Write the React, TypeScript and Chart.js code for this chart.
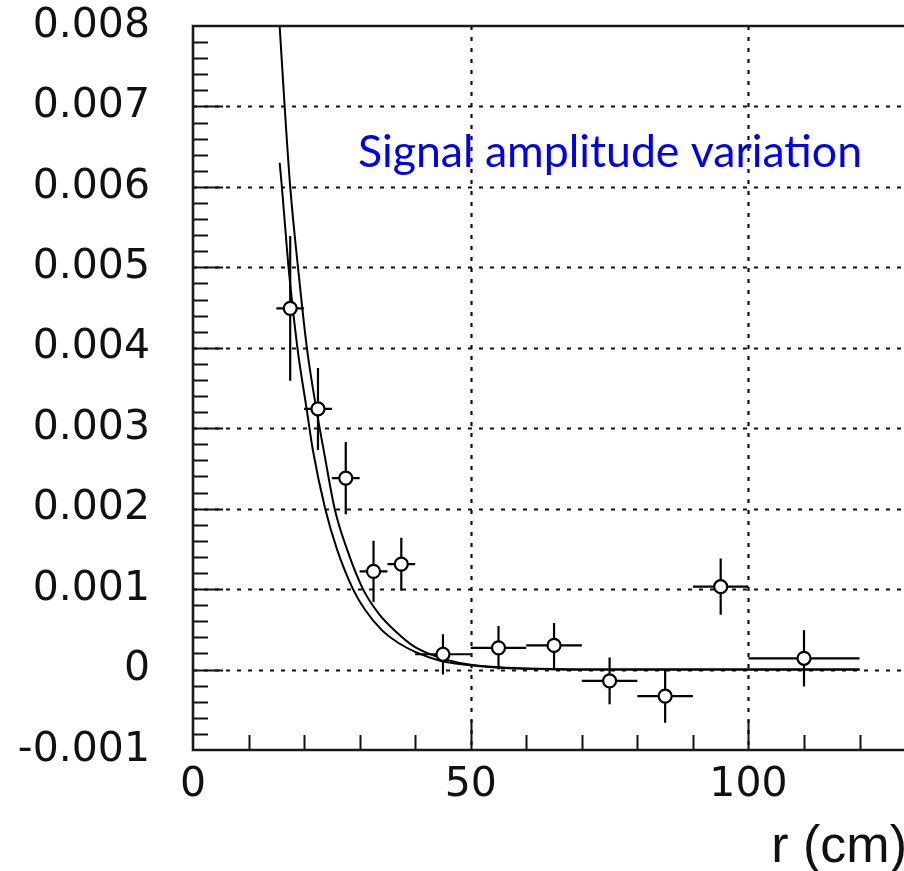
import React, { useEffect, useRef } from "react";
import { Chart, registerables } from "chart.js";

Chart.register(...registerables);

// ---- measured data points (bin centres, half bin widths, amplitudes, errors)
const rCenters = [17.5, 22.5, 27.5, 32.5, 37.5, 45, 55, 65, 75, 85, 95, 110];
const rHalfWidths = [2.5, 2.5, 2.5, 2.5, 2.5, 5, 5, 5, 5, 5, 5, 10];
const amplitudes = [0.00449, 0.00324, 0.00238, 0.00122, 0.00131, 0.00019, 0.00027, 0.0003, -0.00014, -0.00033, 0.00103, 0.00014];
const amplitudeErrors = [0.0009, 0.00051, 0.00045, 0.00038, 0.00033, 0.00025, 0.00027, 0.00028, 0.00029, 0.00033, 0.00035, 0.00035];

// ---- fitted curves
const fitUpperR = [15.6, 16.5, 17.5, 18.9, 20.5, 22.3, 23.6, 25.5, 27.7, 30.6, 33.5, 36.7, 39.5, 42.0, 45.7, 50, 55, 62, 70, 120];
const fitUpperV = [0.008, 0.007, 0.006, 0.005, 0.004, 0.0032, 0.0027, 0.002, 0.0015, 0.001, 0.00069, 0.00046, 0.0003, 0.00021, 0.00012, 0.00006, 0.00003, 0.00001, 0, 0];
const fitLowerR = [15.6, 16.0, 16.9, 17.2, 18.8, 20.5, 21.6, 23.8, 25.9, 28.8, 31.0, 34.0, 37.0, 40.0, 44.5, 49, 54, 60, 68, 120];
const fitLowerV = [0.0063, 0.006, 0.00524, 0.005, 0.004, 0.00322, 0.00272, 0.002, 0.0015, 0.001, 0.00074, 0.00049, 0.00033, 0.00022, 0.00011, 0.00006, 0.00003, 0.00001, 0, 0];

// ---- axes
const xTickValues = [0, 50, 100];
const xTickLabels = ["0", "50", "100"];
const yTickValues = [-0.001, 0, 0.001, 0.002, 0.003, 0.004, 0.005, 0.006, 0.007, 0.008];
const yTickLabels = ["-0.001", "0", "0.001", "0.002", "0.003", "0.004", "0.005", "0.006", "0.007", "0.008"];
const xGridValues = [50, 100];
const yGridValues = [0, 0.001, 0.002, 0.003, 0.004, 0.005, 0.006, 0.007];
const xMinorStep = 10;
const xMinorMax = 120;
const yMinorStep = 0.0002;
const xTitle = "r (cm)";
const annotationText = "Signal amplitude variation";

const X_MIN = 0;
const X_MAX = 128;
const Y_MIN = -0.001;
const Y_MAX = 0.008;

const W = 904;
const H = 871;

const decorPlugin = {
  id: "decor",
  beforeDatasetsDraw(chart: any) {
    const { ctx, chartArea: a, scales } = chart;
    const x = scales.x;
    const y = scales.y;
    ctx.save();
    // dotted grid
    ctx.strokeStyle = "#111";
    ctx.lineWidth = 2.2;
    ctx.setLineDash([4, 7]);
    for (const v of yGridValues) {
      const py = Math.round(y.getPixelForValue(v)) + 0.5;
      ctx.beginPath();
      ctx.moveTo(a.left, py);
      ctx.lineTo(a.right, py);
      ctx.stroke();
    }
    for (const v of xGridValues) {
      const px = Math.round(x.getPixelForValue(v)) + 0.5;
      ctx.beginPath();
      ctx.moveTo(px, a.top);
      ctx.lineTo(px, a.bottom);
      ctx.stroke();
    }
    ctx.setLineDash([]);
    // error bars
    ctx.strokeStyle = "#000";
    ctx.lineWidth = 2.2;
    for (let i = 0; i < rCenters.length; i++) {
      const cx = x.getPixelForValue(rCenters[i]);
      const cy = y.getPixelForValue(amplitudes[i]);
      const x0 = x.getPixelForValue(rCenters[i] - rHalfWidths[i]);
      const x1 = x.getPixelForValue(rCenters[i] + rHalfWidths[i]);
      const y0 = y.getPixelForValue(amplitudes[i] + amplitudeErrors[i]);
      const y1 = y.getPixelForValue(amplitudes[i] - amplitudeErrors[i]);
      ctx.beginPath();
      ctx.moveTo(x0, cy);
      ctx.lineTo(x1, cy);
      ctx.moveTo(cx, y0);
      ctx.lineTo(cx, y1);
      ctx.stroke();
    }
    ctx.restore();
  },
  afterDatasetsDraw(chart: any) {
    const { ctx, chartArea: a, scales } = chart;
    const x = scales.x;
    const y = scales.y;
    ctx.save();
    ctx.strokeStyle = "#111";
    ctx.lineWidth = 2;
    // y ticks (inside, from left border)
    const nY = Math.round((Y_MAX - Y_MIN) / yMinorStep);
    for (let k = 1; k < nY; k++) {
      const v = Y_MIN + k * yMinorStep;
      const py = Math.round(y.getPixelForValue(v)) + 0.5;
      const len = k % 5 === 0 ? 30 : 15;
      ctx.beginPath();
      ctx.moveTo(a.left, py);
      ctx.lineTo(a.left + len, py);
      ctx.stroke();
    }
    // x ticks (inside, from bottom border)
    for (let v = xMinorStep; v <= xMinorMax; v += xMinorStep) {
      const px = Math.round(x.getPixelForValue(v)) + 0.5;
      const len = v % 50 === 0 ? 30 : 15;
      ctx.beginPath();
      ctx.moveTo(px, a.bottom);
      ctx.lineTo(px, a.bottom - len);
      ctx.stroke();
    }
    // frame (no right edge: the plot runs off the picture)
    ctx.strokeStyle = "#1a1a1a";
    ctx.lineWidth = 2.6;
    ctx.beginPath();
    ctx.moveTo(a.right + 2, a.top);
    ctx.lineTo(a.left, a.top);
    ctx.lineTo(a.left, a.bottom);
    ctx.lineTo(a.right + 2, a.bottom);
    ctx.stroke();
    ctx.restore();
  },
  afterDraw(chart: any) {
    const { ctx, chartArea: a } = chart;
    ctx.save();
    // annotation
    ctx.font = '40px Lato, "Open Sans", sans-serif';
    const w = ctx.measureText(annotationText).width;
    const size = (40 * 504) / w;
    ctx.font = `${size.toFixed(2)}px Lato, "Open Sans", sans-serif`;
    ctx.fillStyle = "#0000f0";
    ctx.textAlign = "left";
    ctx.textBaseline = "alphabetic";
    ctx.fillText(annotationText, a.left + 165, a.top + 141);
    // x title
    ctx.font = '52px "Liberation Sans", Arial, sans-serif';
    ctx.fillStyle = "#111";
    ctx.textAlign = "right";
    ctx.fillText(xTitle, chart.width + 3, 862);
    ctx.restore();
  },
};

export default function App() {
  const canvasRef = useRef<HTMLCanvasElement | null>(null);

  useEffect(() => {
    document.body.style.margin = "0";
    const canvas = canvasRef.current;
    if (!canvas) return;

    const fitUpper = fitUpperR.map((r, i) => ({ x: r, y: fitUpperV[i] }));
    const fitLower = fitLowerR.map((r, i) => ({ x: r, y: fitLowerV[i] }));
    const points = rCenters.map((r, i) => ({ x: r, y: amplitudes[i] }));

    const tickFont = { family: '"DejaVu Sans", sans-serif', size: 41 };

    const chart = new Chart(canvas, {
      type: "scatter",
      data: {
        datasets: [
          {
            label: "measured",
            data: points,
            showLine: false,
            pointRadius: 6.5,
            pointHoverRadius: 6.5,
            pointBackgroundColor: "#ffffff",
            pointBorderColor: "#000000",
            pointBorderWidth: 2.2,
            order: 0,
          },
          {
            label: "fit 1",
            data: fitUpper,
            showLine: true,
            pointRadius: 0,
            borderColor: "#000000",
            borderWidth: 2,
            cubicInterpolationMode: "monotone",
            order: 1,
          },
          {
            label: "fit 2",
            data: fitLower,
            showLine: true,
            pointRadius: 0,
            borderColor: "#000000",
            borderWidth: 2,
            cubicInterpolationMode: "monotone",
            order: 2,
          },
        ],
      },
      options: {
        animation: false,
        responsive: false,
        devicePixelRatio: 1,
        events: [],
        layout: { autoPadding: false, padding: { top: 26, left: 0, right: 0, bottom: 0 } },
        plugins: {
          legend: { display: false },
          tooltip: { enabled: false },
          title: { display: false },
        },
        scales: {
          x: {
            type: "linear",
            min: X_MIN,
            max: X_MAX,
            grid: { display: false, drawTicks: false, tickLength: 0 },
            border: { display: false },
            afterBuildTicks: (s: any) => {
              s.ticks = xTickValues.map((value) => ({ value }));
            },
            afterFit: (s: any) => {
              s.height = H - 750;
              s.paddingLeft = 0;
              s.paddingRight = 0;
            },
            ticks: {
              includeBounds: false,
              autoSkip: false,
              maxRotation: 0,
              padding: 11,
              color: "#111",
              font: tickFont,
              callback: (v: any) => xTickLabels[xTickValues.indexOf(Number(v))] ?? "",
            },
          },
          y: {
            type: "linear",
            min: Y_MIN,
            max: Y_MAX,
            grid: { display: false, drawTicks: false, tickLength: 0 },
            border: { display: false },
            afterBuildTicks: (s: any) => {
              s.ticks = yTickValues.map((value) => ({ value }));
            },
            afterFit: (s: any) => {
              s.width = 193;
              s.paddingTop = 0;
              s.paddingBottom = 0;
            },
            ticks: {
              includeBounds: false,
              autoSkip: false,
              padding: 43,
              color: "#111",
              font: tickFont,
              callback: (v: any) => yTickLabels[yTickValues.indexOf(Number(v))] ?? "",
            },
          },
        },
      },
      plugins: [decorPlugin],
    } as any);

    return () => {
      chart.destroy();
    };
  }, []);

  return (
    <div style={{ width: W, height: H, overflow: "hidden", background: "#fff" }}>
      <canvas ref={canvasRef} width={W} height={H} style={{ display: "block", width: W, height: H }} />
    </div>
  );
}
